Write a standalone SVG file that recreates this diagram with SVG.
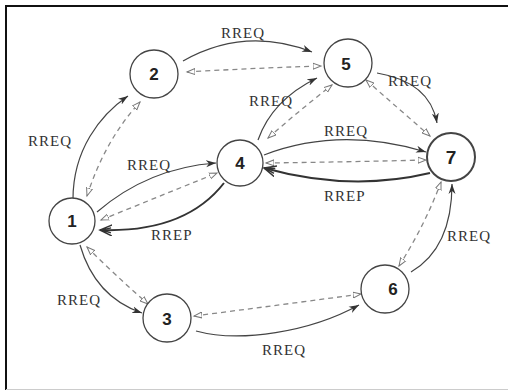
<svg xmlns="http://www.w3.org/2000/svg" width="508" height="391" viewBox="0 0 508 391">
<style>
.node circle{fill:#fff;stroke:#444;stroke-width:1.3}
.node text{font-family:"Liberation Sans",Arial,sans-serif;font-weight:bold;font-size:17px;fill:#222;text-anchor:middle}
.s{fill:none;stroke:#444;stroke-width:1.2}
.rep{fill:none;stroke:#333;stroke-width:2}
.d{fill:none;stroke:#888;stroke-width:1.3;stroke-dasharray:5 4}
.lbl{font-family:"Liberation Serif","Times New Roman",serif;font-size:15px;fill:#333;letter-spacing:1px}
</style>
<defs>
<marker id="ah" markerUnits="userSpaceOnUse" markerWidth="12" markerHeight="8" refX="10" refY="4" orient="auto"><path d="M0,0.5 L10,4 L0,7.5 L3,4 z" fill="#333"/></marker>
<marker id="ahr" markerUnits="userSpaceOnUse" markerWidth="14" markerHeight="12" refX="12" refY="6" orient="auto"><path d="M0,0.5 L12,6 L0,11.5 M1,3.5 L10,6 L1,8.5" fill="none" stroke="#333" stroke-width="1.5"/></marker>
<marker id="dh" markerUnits="userSpaceOnUse" markerWidth="10" markerHeight="8" refX="8" refY="4" orient="auto-start-reverse"><path d="M0,1 L8,4 L0,7 z" fill="#fff" stroke="#777" stroke-width="1"/></marker>
</defs>
<rect x="0" y="0" width="508" height="391" fill="#fff"/>
<g id="frame">
<line x1="6" y1="6" x2="508" y2="6" stroke="#111" stroke-width="2"/>
<line x1="6" y1="5" x2="6" y2="390" stroke="#111" stroke-width="2"/>
<line x1="6" y1="389.5" x2="508" y2="389.5" stroke="#ccc" stroke-width="1"/>
</g>
<g id="connectors">
<path class="s" d="M73,199 C73,150 100,115 128,96" marker-end="url(#ah)"/>
<path class="d" d="M87,196 Q105,140 140,102" marker-start="url(#dh)" marker-end="url(#dh)"/>
<path class="s" d="M183,61 Q245,26 312,52" marker-end="url(#ah)"/>
<path class="d" d="M187,72 Q255,68 321,66" marker-start="url(#dh)" marker-end="url(#dh)"/>
<path class="s" d="M97,212 Q148,168 216,163" marker-end="url(#ah)"/>
<path class="d" d="M101,220 Q160,196 217,173" marker-start="url(#dh)" marker-end="url(#dh)"/>
<path class="rep" d="M224,183 Q185,233 100,230" marker-end="url(#ahr)"/>
<path class="s" d="M258,140 Q272,100 317,78" marker-end="url(#ah)"/>
<path class="d" d="M268,138 Q300,110 332,85" marker-start="url(#dh)" marker-end="url(#dh)"/>
<path class="s" d="M377,73 Q430,82 437,123" marker-end="url(#ah)"/>
<path class="d" d="M366,80 Q400,110 430,136" marker-start="url(#dh)" marker-end="url(#dh)"/>
<path class="s" d="M264,155 Q340,126 426,152" marker-end="url(#ah)"/>
<path class="d" d="M266,163 Q345,162 426,160" marker-start="url(#dh)" marker-end="url(#dh)"/>
<path class="rep" d="M430,173 Q350,192 264,168" marker-end="url(#ahr)"/>
<path class="s" d="M411,272 Q452,248 452,184" marker-end="url(#ah)"/>
<path class="d" d="M399,266 Q425,225 441,182" marker-start="url(#dh)" marker-end="url(#dh)"/>
<path class="s" d="M80,245 Q95,297 142,313" marker-end="url(#ah)"/>
<path class="d" d="M87,247 Q115,275 148,304" marker-start="url(#dh)" marker-end="url(#dh)"/>
<path class="d" d="M194,316 Q280,305 361,294" marker-start="url(#dh)" marker-end="url(#dh)"/>
<path class="s" d="M196,331 C240,343 310,332 359,305" marker-end="url(#ah)"/>
</g>
<g id="labels">
<text class="lbl" x="221" y="38">RREQ</text>
<text class="lbl" x="28" y="146">RREQ</text>
<text class="lbl" x="127" y="170">RREQ</text>
<text class="lbl" x="151" y="240">RREP</text>
<text class="lbl" x="249" y="106">RREQ</text>
<text class="lbl" x="388" y="86">RREQ</text>
<text class="lbl" x="324" y="136">RREQ</text>
<text class="lbl" x="324" y="201">RREP</text>
<text class="lbl" x="447" y="241">RREQ</text>
<text class="lbl" x="57" y="305">RREQ</text>
<text class="lbl" x="262" y="355">RREQ</text>
</g>
<g id="n1" class="node"><circle cx="72" cy="221" r="23"/><text x="72" y="227">1</text></g>
<g id="n2" class="node"><circle cx="154" cy="74" r="24"/><text x="154" y="80">2</text></g>
<g id="n3" class="node"><circle cx="167" cy="318" r="24"/><text x="167" y="325">3</text></g>
<g id="n4" class="node"><circle cx="240" cy="163" r="23"/><text x="240" y="169">4</text></g>
<g id="n5" class="node"><circle cx="348" cy="63" r="24"/><text x="346" y="70">5</text></g>
<g id="n6" class="node"><circle cx="385" cy="289" r="24"/><text x="393" y="295">6</text></g>
<g id="n7" class="node"><circle cx="451" cy="157" r="24" style="stroke-width:2"/><text x="451" y="164" style="font-size:19px">7</text></g>
</svg>
